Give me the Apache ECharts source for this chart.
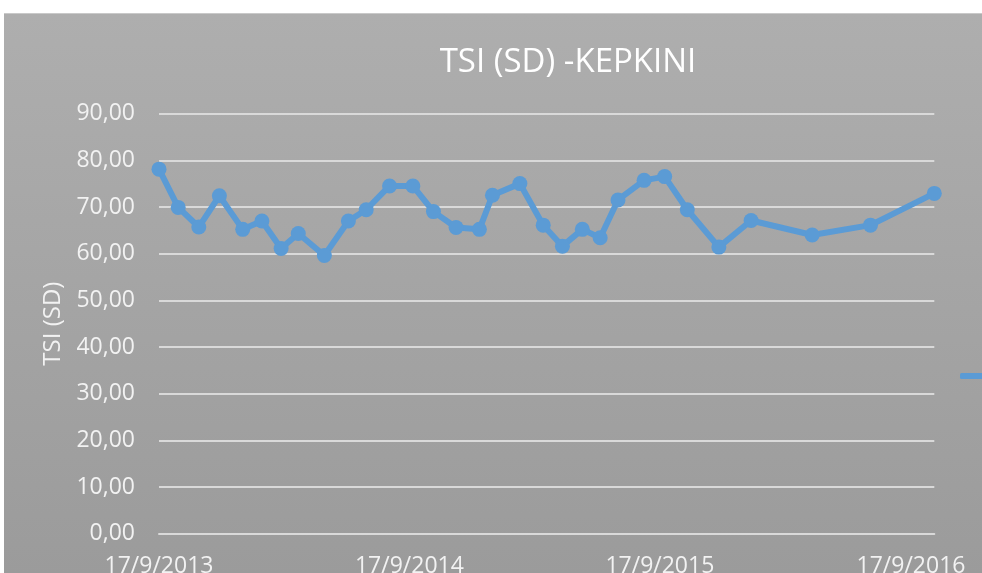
<!DOCTYPE html>
<html>
<head>
<meta charset="utf-8">
<script src="https://cdn.jsdelivr.net/npm/echarts@6/dist/echarts.min.js"></script>
<style>
  html, body { margin: 0; padding: 0; background: #fff; overflow: hidden; }
  #chart_box {
    position: absolute;
    left: 4px;
    top: 13px;
    width: 978px;
    height: 560px;
    border-top: 1px solid #c9c9c9;
  }
</style>
</head>
<body>
<div id="chart_box"></div>
<script>
// sample dates
var dates = [
  "2013-09-17", "2013-10-15", "2013-11-14", "2013-12-14", "2014-01-17",
  "2014-02-14", "2014-03-14", "2014-04-08", "2014-05-16", "2014-06-20",
  "2014-07-16", "2014-08-19", "2014-09-22", "2014-10-22", "2014-11-24",
  "2014-12-28", "2015-01-16", "2015-02-25", "2015-03-31", "2015-04-28",
  "2015-05-27", "2015-06-22", "2015-07-18", "2015-08-25", "2015-09-24",
  "2015-10-27", "2015-12-12", "2016-01-28", "2016-04-26", "2016-07-20",
  "2016-10-21"
];
var tsiValues = [
  78.1, 69.9, 65.7, 72.4, 65.2,
  67.0, 61.1, 64.3, 59.6, 67.0,
  69.4, 74.5, 74.5, 69.0, 65.6,
  65.2, 72.5, 75.0, 66.1, 61.6,
  65.2, 63.4, 71.5, 75.7, 76.5,
  69.4, 61.4, 67.1, 64.0, 66.1,
  72.9
];
// x axis label dates
var xTickDates = ["2013-09-17", "2014-09-17", "2015-09-17", "2016-09-17"];
var yMin = 0, yMax = 90, yStep = 10;

var font = "'Open Sans', sans-serif";

// day number counted from the first sample date
function dayNum(s) {
  var p = s.split("-");
  var t = Date.UTC(+p[0], +p[1] - 1, +p[2]);
  var q = dates[0].split("-");
  return Math.round((t - Date.UTC(+q[0], +q[1] - 1, +q[2])) / 86400000);
}
function dayLabel(n) {
  var q = dates[0].split("-");
  var d = new Date(Date.UTC(+q[0], +q[1] - 1, +q[2]) + n * 86400000);
  return d.getUTCDate() + "/" + (d.getUTCMonth() + 1) + "/" + d.getUTCFullYear();
}

var myecharts = echarts.init(document.getElementById("chart_box"));
let option = {
  backgroundColor: {
    type: "linear", x: 0, y: 0, x2: 0, y2: 1,
    colorStops: [
      { offset: 0, color: "#aeaeae" },
      { offset: 1, color: "#9b9b9b" }
    ]
  },
  animation: false,
  title: {
    text: "TSI (SD) -KEPKINI",
    left: 559,
    top: 27,
    textAlign: "center",
    textStyle: { color: "#ffffff", fontSize: 33, fontWeight: "normal", fontFamily: font }
  },
  legend: {
    left: 951,
    top: 345,
    icon: "roundRect",
    itemWidth: 30,
    itemHeight: 6,
    textStyle: { color: "#ffffff", fontSize: 24, fontFamily: font },
    data: ["TSI (SD)"]
  },
  grid: {
    left: 155,
    top: 99.6,
    width: 775.3,
    height: 420.1,
    outerBoundsMode: "none"
  },
  xAxis: {
    type: "value",
    min: 0,
    max: dayNum(dates[dates.length - 1]),
    axisLine: { show: true, lineStyle: { color: "#d9d9d9", width: 2 } },
    axisTick: { show: false },
    splitLine: { show: false },
    axisLabel: {
      customValues: xTickDates.map(dayNum),
      color: "#f2f2f2",
      fontSize: 23,
      fontFamily: font,
      margin: 21,
      formatter: dayLabel
    }
  },
  yAxis: {
    type: "value",
    min: yMin,
    max: yMax,
    interval: yStep,
    name: "TSI (SD)",
    nameLocation: "middle",
    nameGap: 80,
    nameTextStyle: { color: "#f2f2f2", fontSize: 24, fontFamily: font },
    axisLine: { show: false },
    axisTick: { show: false },
    splitLine: { lineStyle: { color: "#d9d9d9", width: 2 } },
    axisLabel: {
      color: "#f2f2f2",
      fontSize: 23,
      fontFamily: font,
      margin: 24,
      formatter: v => v.toFixed(2).replace(".", ",")
    }
  },
  series: [
    {
      name: "TSI (SD)",
      type: "line",
      data: dates.map((d, i) => [dayNum(d), tsiValues[i]]),
      symbol: "circle",
      symbolSize: 15,
      itemStyle: { color: "#5b9bd5" },
      lineStyle: { color: "#5b9bd5", width: 6 }
    }
  ]
};
myecharts.setOption(option);
</script>
</body>
</html>
